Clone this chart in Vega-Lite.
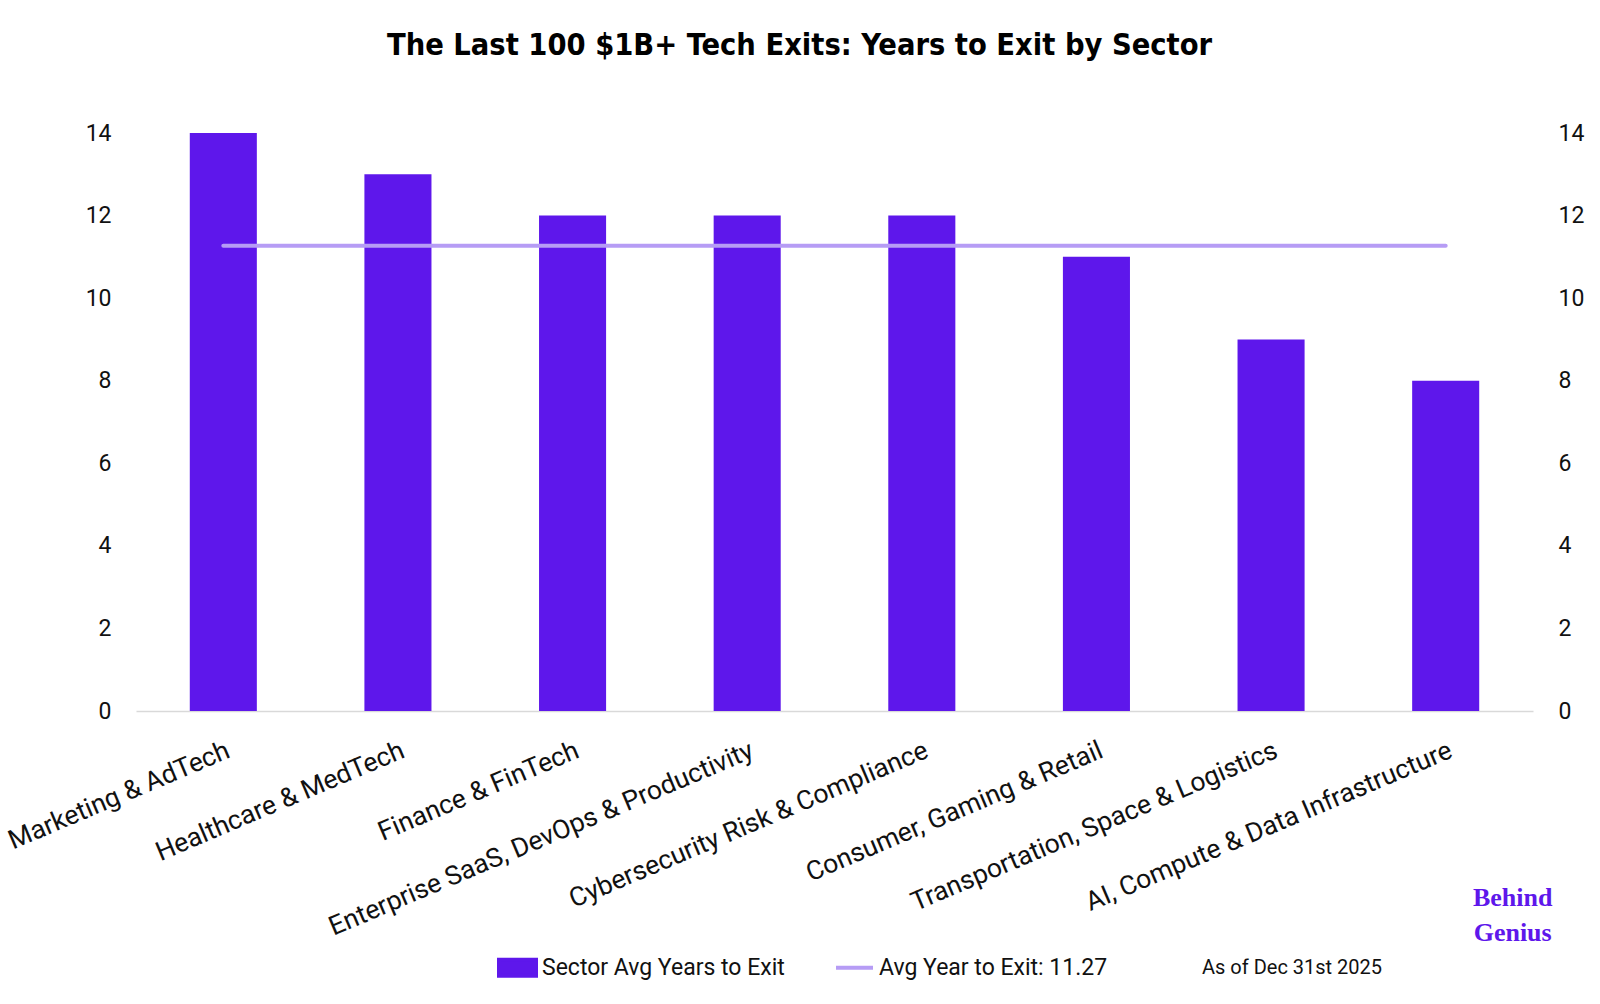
{
  "$schema": "https://vega.github.io/schema/vega-lite/v6.json",
  "width": 1397,
  "height": 578,
  "autosize": {"type": "none"},
  "padding": {"left": 136, "top": 133, "right": 67, "bottom": 293},
  "background": "white",
  "title": {
    "text": "The Last 100 $1B+ Tech Exits: Years to Exit by Sector",
    "font": "DejaVu Sans Condensed, Roboto",
    "fontSize": 30.5,
    "fontWeight": "bold",
    "color": "#000000",
    "anchor": "middle",
    "dx": -35,
    "offset": 61
  },
  "config": {"view": {"stroke": null}, "font": "Roboto"},
  "data": {
    "values": [
      {"sector": "Marketing & AdTech", "years": 14, "avg": 11.27},
      {"sector": "Healthcare & MedTech", "years": 13, "avg": 11.27},
      {"sector": "Finance & FinTech", "years": 12, "avg": 11.27},
      {"sector": "Enterprise SaaS, DevOps & Productivity", "years": 12, "avg": 11.27},
      {"sector": "Cybersecurity Risk & Compliance", "years": 12, "avg": 11.27},
      {"sector": "Consumer, Gaming & Retail", "years": 11, "avg": 11.27},
      {"sector": "Transportation, Space & Logistics", "years": 9, "avg": 11.27},
      {"sector": "AI, Compute & Data Infrastructure", "years": 8, "avg": 11.27}
    ]
  },
  "layer": [
    {
      "mark": {"type": "bar"},
      "encoding": {
        "x": {
          "field": "sector",
          "type": "nominal",
          "sort": null,
          "scale": {"paddingInner": 0.616, "paddingOuter": 0.308},
          "axis": {
            "title": null,
            "labelAngle": -23,
            "labelAlign": "right",
            "labelBaseline": "top",
            "labelPadding": 26,
            "ticks": false,
            "domainColor": "#D9D9D9",
            "domainWidth": 1.5,
            "labelFont": "Roboto",
            "labelFontSize": 26.5,
            "labelColor": "#111111",
            "labelLimit": 600
          }
        },
        "y": {
          "field": "years",
          "type": "quantitative",
          "scale": {"domain": [0, 14], "nice": false},
          "axis": {
            "orient": "left",
            "title": null,
            "values": [0, 2, 4, 6, 8, 10, 12, 14],
            "grid": false,
            "ticks": false,
            "domain": false,
            "labelPadding": 25,
            "labelFont": "Roboto",
            "labelFontSize": 23,
            "labelColor": "#111111"
          }
        },
        "color": {
          "datum": "Sector Avg Years to Exit",
          "type": "nominal",
          "scale": {
            "domain": ["Sector Avg Years to Exit", "Avg Year to Exit: 11.27", "As of Dec 31st 2025"],
            "range": ["#5E17EB", "#B69CF5", "#FFFFFF"]
          },
          "legend": {
            "orient": "none",
            "legendX": 361,
            "legendY": 814,
            "direction": "horizontal",
            "title": null,
            "padding": 0,
            "labelFont": "Roboto",
            "labelFontSize": 23,
            "labelColor": "#111111",
            "labelOffset": 4,
            "labelLimit": 500,
            "columnPadding": 43,
            "symbolSize": 1369,
            "encode": {
              "symbols": {
                "update": {
                  "shape": {"signal": "datum.value === 'Avg Year to Exit: 11.27' ? 'M-1,-0.43L-1,-0.43M-1,0H1M1,0.43L1,0.43' : 'M-1,-0.43H1V0.43H-1Z'"},
                  "fill": {"signal": "datum.value === 'Sector Avg Years to Exit' ? '#5E17EB' : 'transparent'"},
                  "stroke": {"signal": "datum.value === 'Avg Year to Exit: 11.27' ? '#B69CF5' : 'transparent'"},
                  "strokeWidth": {"value": 4},
                  "opacity": {"value": 1}
                }
              },
              "labels": {
                "update": {
                  "fontSize": {"signal": "datum.value === 'As of Dec 31st 2025' ? 20 : 23"}
                }
              }
            }
          }
        }
      }
    },
    {
      "mark": {"type": "line", "strokeWidth": 4, "strokeCap": "round"},
      "encoding": {
        "x": {"field": "sector", "type": "nominal", "sort": null},
        "y": {
          "field": "avg",
          "type": "quantitative",
          "scale": {"domain": [0, 14], "nice": false},
          "axis": {
            "orient": "right",
            "title": null,
            "values": [0, 2, 4, 6, 8, 10, 12, 14],
            "grid": false,
            "ticks": false,
            "domain": false,
            "labelPadding": 25,
            "labelFont": "Roboto",
            "labelFontSize": 23,
            "labelColor": "#111111"
          }
        },
        "color": {"datum": "Avg Year to Exit: 11.27", "type": "nominal"}
      }
    },
    {
      "data": {"values": [{"brand": "Behind Genius"}]},
      "mark": {
        "type": "text",
        "font": "Liberation Serif",
        "fontWeight": "bold",
        "fontSize": 26,
        "color": "#5E17EB",
        "align": "center",
        "baseline": "middle",
        "lineBreak": " ",
        "lineHeight": 35,
        "dx": 67
      },
      "encoding": {
        "x": {"datum": "AI, Compute & Data Infrastructure", "type": "nominal"},
        "y": {"datum": -4.53, "type": "quantitative", "scale": {"domain": [0, 14], "nice": false}, "axis": null},
        "text": {"field": "brand"}
      }
    }
  ],
  "resolve": {"scale": {"y": "independent"}}
}
